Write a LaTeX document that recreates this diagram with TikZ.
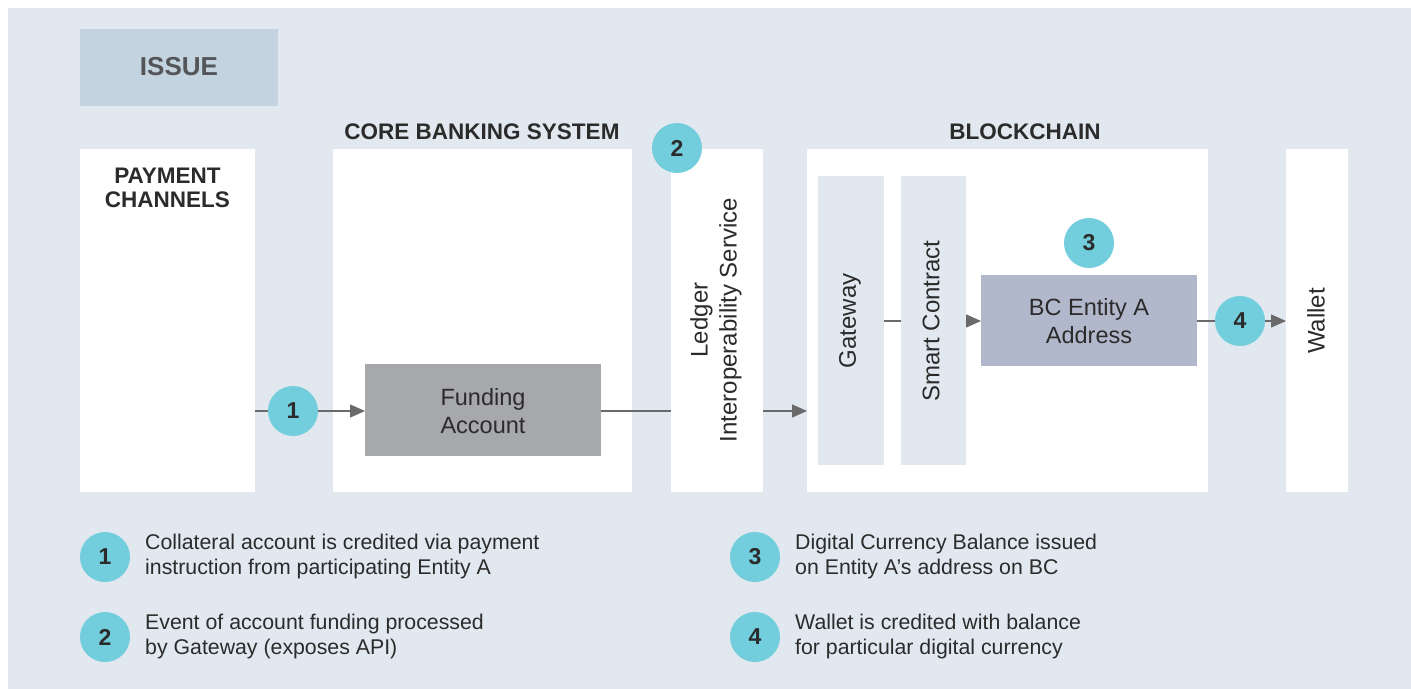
\documentclass[tikz,border=0pt]{standalone}
\usepackage{fontspec}
\setmainfont{Liberation Sans}
\usetikzlibrary{arrows.meta}
\definecolor{bgc}{HTML}{E1E8EF}
\definecolor{issuec}{HTML}{C3D3DF}
\definecolor{circc}{HTML}{72CDDC}
\definecolor{fundc}{HTML}{A7A8AC}
\definecolor{bcc}{HTML}{B2B8CB}
\definecolor{txt}{HTML}{2B2B2B}
\definecolor{issuetxt}{HTML}{545558}
\definecolor{linec}{HTML}{6A6A6A}
\tikzset{
  box/.style={inner sep=0pt, outer sep=0pt},
  whitebox/.style={box, fill=white},
  subbox/.style={box, fill=bgc},
  bodytxt/.style={text=txt, font=\fontsize{23.5bp}{28bp}\selectfont, align=center, inner sep=0pt},
  vtxt/.style={text=txt, font=\fontsize{24bp}{29bp}\selectfont, align=center, rotate=90, inner sep=0pt},
  title/.style={text=txt, font=\fontsize{22.5bp}{24bp}\selectfont\bfseries, align=center, inner sep=0pt},
  numc/.style={circle, fill=circc, minimum size=50bp, inner sep=0pt, outer sep=0pt, text=txt, font=\fontsize{23bp}{24bp}\selectfont\bfseries},
  legtxt/.style={text=txt, font=\fontsize{21.3bp}{25bp}\selectfont, align=left, anchor=west, inner sep=0pt},
  conn/.style={draw=linec, line width=1.4bp},
  arr/.style={conn, -{Triangle[length=15bp,width=13bp]}},
}
\begin{document}
\begin{tikzpicture}[x=1bp,y=-1bp]
\path[use as bounding box, fill=white] (0,0) rectangle (1411,689);
\fill[bgc] (8,8) rectangle (1411,689);
% issue
\node[box, fill=issuec, minimum width=198bp, minimum height=77bp] (issue) at (179,67.5) {};
\node[text=issuetxt, font=\fontsize{26bp}{26bp}\selectfont\bfseries, inner sep=0pt] (issuet) at (179,67) {ISSUE};
% columns
\node[whitebox, minimum width=175bp, minimum height=343bp] (pay) at (167.5,320.5) {};
\node[whitebox, minimum width=299bp, minimum height=343bp] (core) at (482.5,320.5) {};
\node[whitebox, minimum width=92bp, minimum height=343bp] (ledger) at (717,320.5) {};
\node[whitebox, minimum width=401bp, minimum height=343bp] (bchain) at (1007.5,320.5) {};
\node[whitebox, minimum width=62bp, minimum height=343bp] (wallet) at (1317,320.5) {};
% titles
\node[title] (payt) at (167.5,188) {PAYMENT\\CHANNELS};
\node[title] (coret) at (482,132) {CORE BANKING SYSTEM};
\node[title] (bchaint) at (1025,132) {BLOCKCHAIN};
% inner boxes
\node[subbox, minimum width=66bp, minimum height=289bp] (gateway) at (851,320.5) {};
\node[subbox, minimum width=65bp, minimum height=289bp] (smart) at (933.5,320.5) {};
\node[box, fill=bcc, minimum width=216bp, minimum height=91bp] (bcaddr) at (1089,320.5) {};
\node[box, fill=fundc, minimum width=236bp, minimum height=92bp] (fund) at (483,410) {};
% texts
\node[bodytxt] (fundt) at (483,411) {Funding\\Account};
\node[bodytxt] (bcaddrt) at (1089,321) {BC Entity A\\Address};
\node[vtxt] (ledgert) at (716,320) {Ledger\\Interoperability Service};
\node[vtxt] (gatewayt) at (850,321) {Gateway};
\node[vtxt] (smartt) at (931,321) {Smart Contract};
\node[vtxt] (wallett) at (1316,321) {Wallet};
% markers
\coordinate (c1pos) at (293,411);
\coordinate (c4pos) at (1240,321);
\node[numc] (c1) at (c1pos) {1};
\node[numc] (c2) at (677,148) {2};
\node[numc] (c3) at (1089,243) {3};
\node[numc] (c4) at (c4pos) {4};
% connectors
\draw[conn] (pay.east |- c1pos) -- (c1);
\draw[arr] (c1) -- (fund.west |- c1pos);
\draw[conn] (fund.east |- c1pos) -- (ledger.west |- c1pos);
\draw[arr] (ledger.east |- c1pos) -- (bchain.west |- c1pos);
\draw[conn] (gateway.east |- c4pos) -- (smart.west |- c4pos);
\draw[arr] (smart.east |- c4pos) -- (bcaddr.west |- c4pos);
\draw[conn] (bcaddr.east |- c4pos) -- (c4);
\draw[arr] (c4) -- (wallet.west |- c4pos);
% legend
\node[numc] (l1) at (105,557) {1};
\node[numc] (l2) at (105,637) {2};
\node[numc] (l3) at (755,557) {3};
\node[numc] (l4) at (755,637) {4};
\node[legtxt] (l1t) at (145,556) {Collateral account is credited via payment\\instruction from participating Entity A};
\node[legtxt] (l2t) at (145,636) {Event of account funding processed\\by Gateway (exposes API)};
\node[legtxt] (l3t) at (795,556) {Digital Currency Balance issued\\on Entity A’s address on BC};
\node[legtxt] (l4t) at (795,636) {Wallet is credited with balance\\for particular digital currency};
\end{tikzpicture}
\end{document}
